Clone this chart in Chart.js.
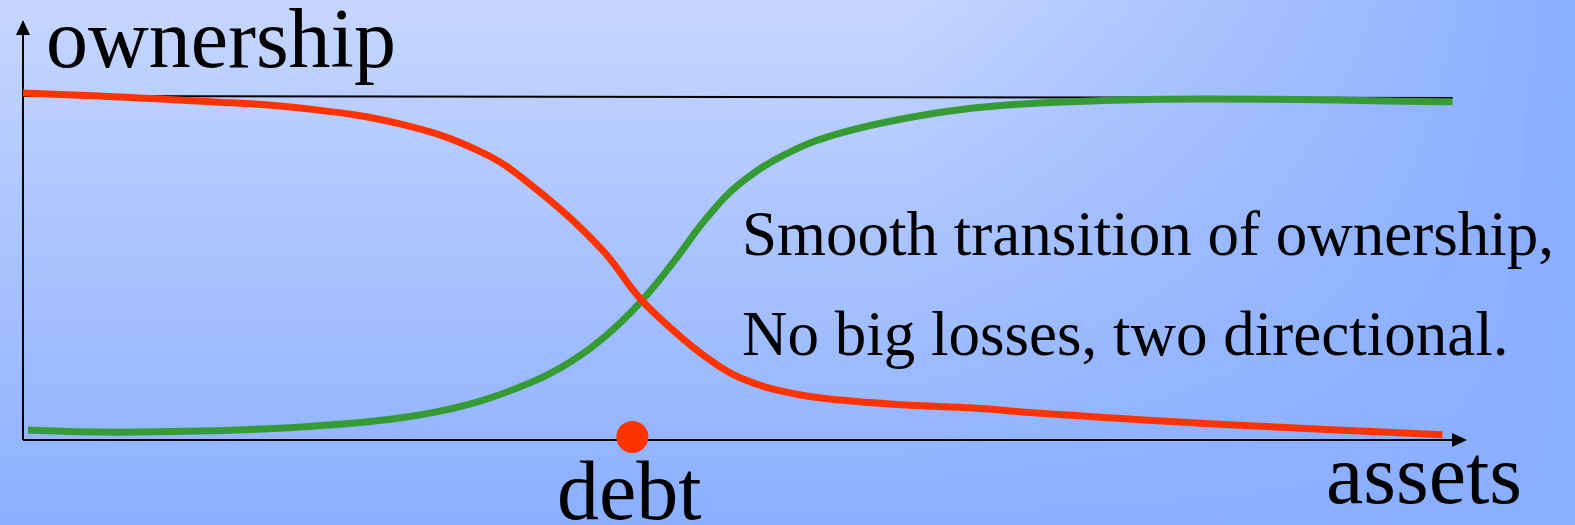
<!DOCTYPE html>
<html lang="en">
<head>
  <meta charset="UTF-8">
  <title>ownership vs assets</title>
  <script src="https://cdn.jsdelivr.net/npm/chart.js"></script>
  <style>
    html, body {
      margin: 0;
      padding: 0;
      background: #8cb0ff;
    }
  </style>
</head>
<body>
<canvas id="chart" width="1575" height="525"></canvas>

<script>
  // assets (0..100) and ownership (0..1)
  const redX   = [0, 5.3, 12.3, 19.2, 26.1, 31.6, 35.1, 40.0, 42.7, 45.0, 47.4, 49.7, 53.1, 56.6, 61.2, 65.8, 70.4, 81.5, 98.3];
  const redY   = [1.009, 1.0, 0.985, 0.965, 0.919, 0.840, 0.744, 0.558, 0.413, 0.320, 0.238, 0.180, 0.137, 0.116, 0.102, 0.093, 0.078, 0.049, 0.015];
  const greenX = [0.35, 5.3, 12.3, 19.2, 26.1, 31.0, 35.1, 37.9, 40.2, 42.7, 45.0, 47.4, 49.7, 53.1, 56.6, 61.2, 65.8, 70.4, 81.5, 99.0];
  const greenY = [0.029, 0.023, 0.026, 0.038, 0.064, 0.105, 0.166, 0.227, 0.297, 0.398, 0.515, 0.648, 0.747, 0.837, 0.892, 0.936, 0.965, 0.980, 0.991, 0.983];
  const topX   = [0, 99.0];
  const topY   = [1.0, 0.994];
  const debtX  = [42.2];
  const debtY  = [0.009];

  const toPts = (xs, ys) => xs.map((x, i) => ({ x: x, y: ys[i] }));

  const SERIF = '"Liberation Serif", "Times New Roman", serif';

  const backdrop = {
    id: "backdrop",
    beforeDraw(chart) {
      const c = chart.ctx;
      const w = chart.width, h = chart.height;
      c.save();
      const v = c.createLinearGradient(0, 0, 0, h);
      v.addColorStop(0, "#c6d6ff");
      v.addColorStop(1, "#8bafff");
      c.fillStyle = v;
      c.fillRect(0, 0, w, h);
      const r = c.createLinearGradient(900, 0, 1560, 0);
      r.addColorStop(0, "rgba(138,174,255,0)");
      r.addColorStop(1, "rgba(138,174,255,1)");
      c.fillStyle = r;
      c.fillRect(0, 0, w, h);
      c.restore();
    }
  };

  const axesAndText = {
    id: "axesAndText",
    beforeDatasetsDraw(chart) {
      const c = chart.ctx;
      const xs = chart.scales.x, ys = chart.scales.y;
      const x0 = xs.getPixelForValue(0), y0 = ys.getPixelForValue(0);
      const xEnd = xs.getPixelForValue(100), yEnd = ys.getPixelForValue(ys.max);
      c.save();
      c.strokeStyle = "#000";
      c.fillStyle = "#000";
      c.lineWidth = 2;
      c.beginPath();
      c.moveTo(x0, y0);
      c.lineTo(xEnd - 10, y0);
      c.moveTo(x0, y0);
      c.lineTo(x0, yEnd + 10);
      c.stroke();
      // arrow heads
      c.beginPath();
      c.moveTo(xEnd, y0);
      c.lineTo(xEnd - 15, y0 - 7);
      c.lineTo(xEnd - 15, y0 + 7);
      c.closePath();
      c.fill();
      c.beginPath();
      c.moveTo(x0, yEnd);
      c.lineTo(x0 - 7, yEnd + 15);
      c.lineTo(x0 + 7, yEnd + 15);
      c.closePath();
      c.fill();
      c.restore();
    },
    afterDraw(chart) {
      const c = chart.ctx;
      c.save();
      c.fillStyle = "#000";
      c.textAlign = "left";
      c.textBaseline = "alphabetic";
      c.font = "84px " + SERIF;
      c.fillText("ownership", 46, 67);
      c.fillText("debt", 557, 519);
      c.fillText("assets", 1326, 503);
      c.font = "63px " + SERIF;
      c.fillText("Smooth transition of ownership,", 742, 255);
      c.fillText("No big losses, two directional.", 742, 355);
      c.restore();
    }
  };

  new Chart(document.getElementById("chart"), {
    type: "line",
    data: {
      datasets: [
        {
          label: "top",
          data: toPts(topX, topY),
          borderColor: "#000",
          borderWidth: 2,
          pointRadius: 0,
          tension: 0,
          order: 3
        },
        {
          label: "creditor",
          data: toPts(greenX, greenY),
          borderColor: "#379b35",
          borderWidth: 7,
          pointRadius: 0,
          tension: 0.4,
          order: 2
        },
        {
          label: "owner",
          data: toPts(redX, redY),
          borderColor: "#ff3300",
          borderWidth: 7,
          pointRadius: 0,
          tension: 0.4,
          order: 1
        },
        {
          label: "debt",
          data: toPts(debtX, debtY),
          showLine: false,
          pointRadius: 16,
          pointBackgroundColor: "#ff3300",
          pointBorderWidth: 0,
          order: 0
        }
      ]
    },
    options: {
      responsive: false,
      animation: false,
      clip: false,
      layout: { padding: { left: 23, right: 108, top: 20, bottom: 85 } },
      plugins: {
        legend: { display: false },
        tooltip: { enabled: false }
      },
      scales: {
        x: { type: "linear", min: 0, max: 100, display: false },
        y: { type: "linear", min: 0, max: 1.221, display: false }
      }
    },
    plugins: [backdrop, axesAndText]
  });
</script>
</body>
</html>
